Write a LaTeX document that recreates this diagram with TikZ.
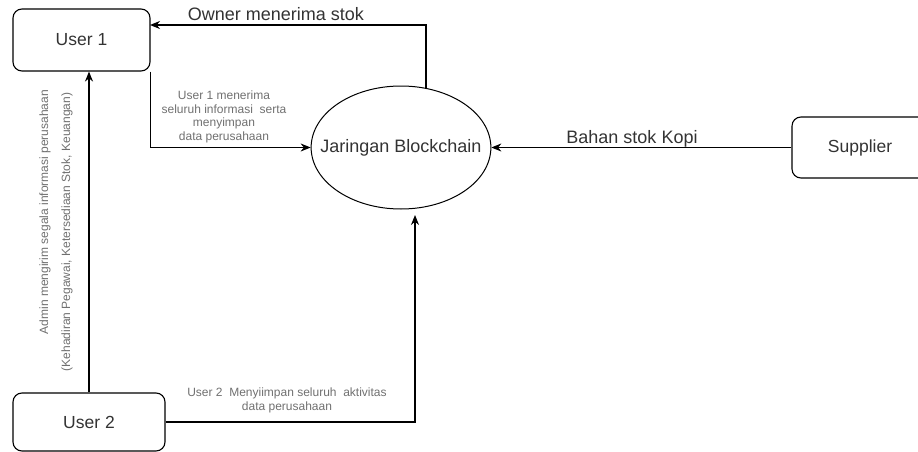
\documentclass[tikz,border=0pt]{standalone}
\usepackage{fontspec}
\setmainfont{Liberation Sans}
\usetikzlibrary{shapes.geometric,arrows.meta,calc}
\definecolor{ink}{HTML}{333333}
\definecolor{note}{HTML}{707070}
\begin{document}
\begin{tikzpicture}[x=1pt,y=-1pt,
  box/.style={draw=black,line width=1.1pt,rounded corners=9pt,inner sep=0pt,
    text=ink,font=\fontsize{17.5}{21}\selectfont},
  hub/.style={draw=black,line width=1pt,ellipse,inner xsep=-17pt,inner ysep=0pt,
    minimum height=123pt,text=ink,font=\fontsize{18}{21}\selectfont},
  arr/.style={draw=black,line width=1.2pt,-{Stealth[length=10pt,width=8pt]}},
  big/.style={text=ink,font=\fontsize{18}{21}\selectfont,inner sep=0pt},
  small/.style={text=note,font=\fontsize{12}{13.6}\selectfont,align=center,inner sep=0pt}]
\useasboundingbox (0,0) rectangle (918,452);
\clip (0,0) rectangle (918,452);

% entities
\node[box,minimum width=137pt,minimum height=62pt] (u1) at (81.5,40) {User 1};
\node[box,minimum width=152pt,minimum height=58pt] (u2) at (89,422) {User 2};
\node[box,minimum width=136pt,minimum height=61pt] (sup) at (860,147.5) {Supplier};
\node[hub] (blk) at (401,147.5) {Jaringan Blockchain};

% connector end points on the borders
\coordinate (t1) at (426,88);
\coordinate (o1) at (150,25);
\coordinate (b1) at (415,215);

% flows
\draw[arr] (t1) |- (o1);
\draw[arr] (u1.south east) |- (blk.west);
\draw[arr] (u2.north) -- (u2.north |- u1.south);
\draw[arr] (u2.east) -| (b1);
\draw[arr] (sup.west) -- (blk.east);

% labels
\node[big] at (276,14) {Owner menerima stok};
\node[big] at (632,139) {Bahan stok Kopi};
\node[small] at (224,117) {User 1 menerima\\seluruh informasi\ \ serta\\menyimpan\\data perusahaan};
\node[small] at (287,400.5) {User 2\ \ Menyiimpan seluruh\ \ aktivitas\\data perusahaan};
\node[small,rotate=90] at (45,212) {Admin mengirim segala informasi perusahaan};
\node[small,rotate=90] at (67,232) {(Kehadiran Pegawai, Ketersediaan Stok, Keuangan)};
\end{tikzpicture}
\end{document}
